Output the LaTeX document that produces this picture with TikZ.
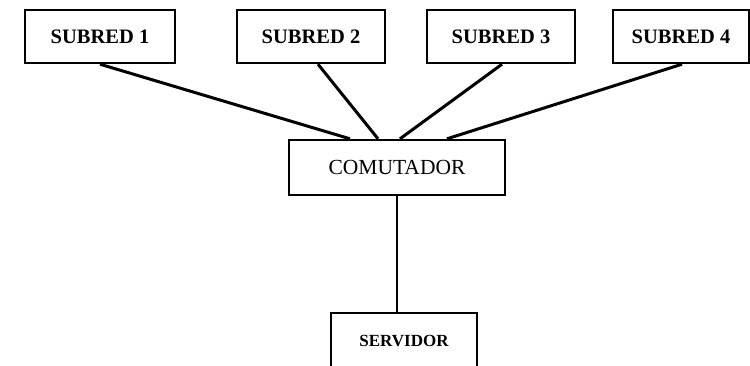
\documentclass[tikz,border=0pt]{standalone}
\usepackage{fontspec}
\setmainfont{Liberation Serif}
\begin{document}
\begin{tikzpicture}[x=1pt,y=-1pt,
  netbox/.style={draw, line width=2.4pt, rectangle, inner sep=0pt, align=center},
  subnet/.style={netbox, minimum width=148pt, minimum height=53pt,
    font=\fontsize{20.5}{20.5}\selectfont\bfseries},
  link/.style={line width=3pt},
  uplink/.style={line width=2.2pt}]
  \useasboundingbox (0,0) rectangle (750,365);
  \clip (0,0) rectangle (750,365);
  % subnets along the top
  \node[subnet, minimum width=150pt] (s1) at (100,36.5) {SUBRED 1};
  \node[subnet] (s2) at (311,36.5) {SUBRED 2};
  \node[subnet] (s3) at (501,36.5) {SUBRED 3};
  \node[subnet, minimum width=136pt] (s4) at (681,36.5) {SUBRED 4};
  % central switch
  \node[netbox, minimum width=216pt, minimum height=55pt,
    font=\fontsize{21.5}{21.5}\selectfont] (com) at (397,167.5) {COMUTADOR};
  % server, running past the lower edge
  \node[netbox, minimum width=146pt, minimum height=56pt,
    font=\fontsize{17}{17}\selectfont\bfseries] (srv) at (404,341) {SERVIDOR};
  % connectors
  \draw[link] (s1.south) -- ([xshift=-47pt]com.north);
  \draw[link] ([xshift=7pt]s2.south) -- ([xshift=-19pt]com.north);
  \draw[link] ([xshift=1pt]s3.south) -- ([xshift=3pt]com.north);
  \draw[link] ([xshift=1pt]s4.south) -- ([xshift=50pt]com.north);
  \draw[uplink] (com.south) -- (com.south |- srv.north);
\end{tikzpicture}
\end{document}
